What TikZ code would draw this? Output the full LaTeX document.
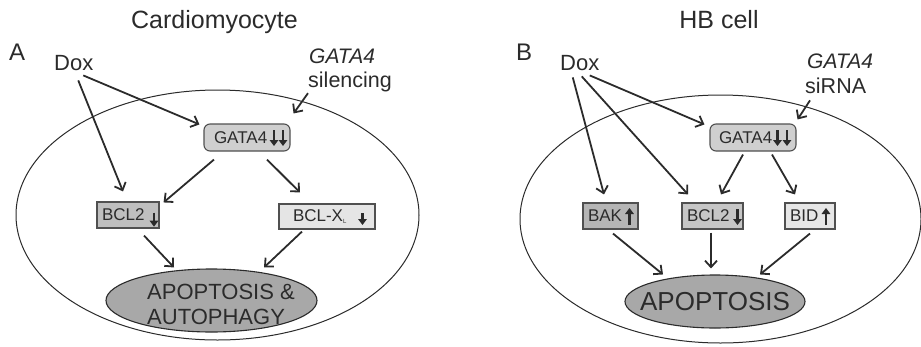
\documentclass[tikz,border=0pt]{standalone}
\usepackage{fontspec}
\setmainfont{Liberation Sans}
\usetikzlibrary{arrows.meta,shapes.geometric}
\definecolor{ink}{HTML}{2B2B2B}
\definecolor{edge}{HTML}{505050}
\definecolor{fgata}{HTML}{CFCFCF}
\definecolor{fbclA}{HTML}{BFBFBF}
\definecolor{fbclx}{HTML}{E5E5E5}
\definecolor{fbak}{HTML}{B5B5B5}
\definecolor{fbclB}{HTML}{C6C6C6}
\definecolor{fbid}{HTML}{E6E6E6}
\definecolor{fapop}{HTML}{A8A8A8}
\begin{document}
\begin{tikzpicture}[x=1pt,y=-1pt,
  lbl/.style={inner sep=0pt, text=ink, anchor=base west},
  cell/.style={ellipse, draw=ink, line width=1pt, inner sep=0pt},
  box/.style={draw=edge, line width=1.1pt, inner xsep=0pt, inner ysep=0pt, text=ink,
    align=left, font=\fontsize{17}{20}\selectfont},
  apop/.style={ellipse, draw=ink, line width=1.1pt, fill=fapop, inner sep=0pt, text=ink},
  arr/.style={draw=ink, line width=1.8pt, -{Straight Barb[length=6.5pt,width=12pt]}},
  sarr/.style={draw=ink, line width=2.5pt, -{Triangle[length=6pt,width=8.5pt]}}]
\useasboundingbox (0,0) rectangle (921,346);

% ---------- Panel A ----------
\node[cell, minimum width=403pt, minimum height=250pt] (cellA) at (217.5,215) {};
\node[lbl, anchor=base, font=\fontsize{25}{30}\selectfont] (titleA) at (214.5,28) {Cardiomyocyte};
\node[lbl, font=\fontsize{24}{28}\selectfont] (labA) at (9,60) {A};
\node[lbl, font=\fontsize{22}{26}\selectfont] (doxA) at (54,70) {Dox};
\node[lbl, font=\fontsize{21}{25}\itshape] (gA) at (309,63) {GATA4};
\node[lbl, font=\fontsize{21.5}{25}\selectfont] (silA) at (308,87) {silencing};

\node[box, fill=fgata, rounded corners=6pt, text width=86pt, minimum height=27pt] (gataA) at (247,137.5) {\hspace*{10pt}GATA4};
\node[box, fill=fbclA, text width=62pt, minimum height=26pt] (bcl2A) at (128,215) {\hspace*{5pt}BCL2};
\node[box, fill=fbclx, text width=96pt, minimum height=25pt] (bclxA) at (327,216.5) {\hspace*{14pt}BCL-X\raisebox{-2pt}{\fontsize{6}{6}\selectfont L}};
\node[apop, minimum width=211pt, minimum height=63pt] (apopA) at (211.5,300.5) {};
\node[lbl, anchor=west, align=left, font=\fontsize{22}{25}\selectfont] (apopAtxt) at (147,304) {APOPTOSIS \&\\AUTOPHAGY};

\draw[sarr] ([shift={(27,-7.5)}]gataA.center) -- ([shift={(27,8.5)}]gataA.center);
\draw[sarr] ([shift={(36,-7.5)}]gataA.center) -- ([shift={(36,8.5)}]gataA.center);
\draw[sarr] ([shift={(26,-2.3)}]bcl2A.center) -- ([shift={(26,11.7)}]bcl2A.center);
\draw[sarr] ([shift={(35.5,-3.5)}]bclxA.center) -- ([shift={(35.5,8.5)}]bclxA.center);

\draw[arr] ([shift={(9.5,5)}]doxA.south) -- ([shift={(-4,1)}]gataA.north west);
\draw[arr] ([shift={(4.5,10)}]doxA.south) -- ([shift={(-5,-10)}]bcl2A.north);
\draw[arr] ([shift={(0,1.5)}]silA.south west) -- ([shift={(3,-10)}]gataA.north east);
\draw[arr] ([shift={(-33,8)}]gataA.south) -- ([shift={(4,1)}]bcl2A.north east);
\draw[arr] ([shift={(20,8)}]gataA.south) -- ([shift={(-27,-11)}]bclxA.north);
\draw[arr] ([shift={(16,7)}]bcl2A.south) -- ([shift={(-37.5,-1)}]apopA.north);
\draw[arr] ([shift={(-25,2)}]bclxA.south) -- ([shift={(52.5,-1)}]apopA.north);

% ---------- Panel B ----------
\node[cell, minimum width=401pt, minimum height=248pt] (cellB) at (720.5,219) {};
\node[lbl, anchor=base, font=\fontsize{25}{30}\selectfont] (titleB) at (719,28) {HB cell};
\node[lbl, font=\fontsize{24}{28}\selectfont] (labB) at (516,60) {B};
\node[lbl, font=\fontsize{22}{26}\selectfont] (doxB) at (560,70) {Dox};
\node[lbl, font=\fontsize{21}{25}\itshape] (gB) at (807,68) {GATA4};
\node[lbl, font=\fontsize{21.5}{25}\selectfont] (siB) at (805,93) {siRNA};

\node[box, fill=fgata, rounded corners=6pt, text width=86pt, minimum height=27pt] (gataB) at (753,137.5) {\hspace*{9pt}GATA4};
\node[box, fill=fbak, text width=55pt, minimum height=26pt] (bakB) at (610.5,216) {\hspace*{5pt}BAK};
\node[box, fill=fbclB, text width=61pt, minimum height=26pt] (bcl2B) at (712.5,216) {\hspace*{5pt}BCL2};
\node[box, fill=fbid, text width=50pt, minimum height=26pt] (bidB) at (810,216) {\hspace*{5pt}BID};
\node[apop, minimum width=180pt, minimum height=53pt, font=\fontsize{26}{30}\selectfont] (apopB) at (715,301.5) {\makebox[0pt]{APOPTOSIS}};

\draw[sarr] ([shift={(24.5,-7.5)}]gataB.center) -- ([shift={(24.5,8.5)}]gataB.center);
\draw[sarr] ([shift={(34,-7.5)}]gataB.center) -- ([shift={(34,8.5)}]gataB.center);
\draw[sarr] ([shift={(19,9)}]bakB.center) -- ([shift={(19,-8)}]bakB.center);
\draw[sarr] ([shift={(25,-7)}]bcl2B.center) -- ([shift={(25,9)}]bcl2B.center);
\draw[sarr] ([shift={(16,9)}]bidB.center) -- ([shift={(16,-8)}]bidB.center);

\draw[arr] ([shift={(10,5)}]doxB.south) -- ([shift={(-5,1)}]gataB.north west);
\draw[arr] ([shift={(-7,7)}]doxB.south) -- ([shift={(-6.5,-8)}]bakB.north);
\draw[arr] ([shift={(2,6)}]doxB.south) -- ([shift={(-24.5,-8)}]bcl2B.north);
\draw[arr] ([shift={(5,7)}]siB.south west) -- ([shift={(1,-4)}]gataB.north east);
\draw[arr] ([shift={(-10,3)}]gataB.south) -- ([shift={(8.5,-8)}]bcl2B.north);
\draw[arr] ([shift={(19,3)}]gataB.south) -- ([shift={(-15,-8)}]bidB.north);
\draw[arr] ([shift={(2.5,4)}]bakB.south) -- ([shift={(-52,0)}]apopB.north);
\draw[arr] ([shift={(-1.5,3)}]bcl2B.south) -- ([shift={(-4,-6)}]apopB.north);
\draw[arr] ([shift={(0,4)}]bidB.south) -- ([shift={(45,0)}]apopB.north);
\end{tikzpicture}
\end{document}
